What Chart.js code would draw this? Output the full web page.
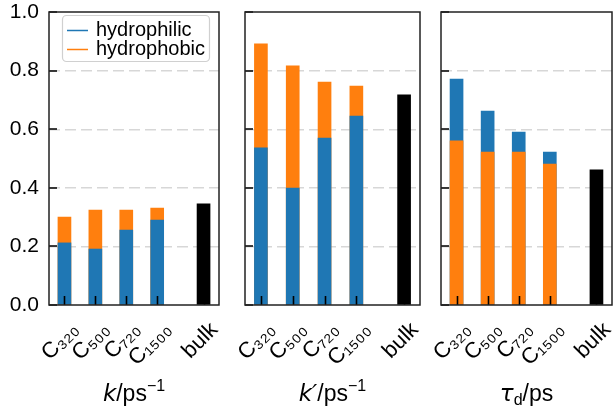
<!DOCTYPE html>
<html>
<head>
<meta charset="utf-8">
<script src="https://cdn.jsdelivr.net/npm/chart.js@4.4.1/dist/chart.umd.min.js"></script>
<style>
  html, body { margin: 0; padding: 0; background: #fff; }
  #wrap { position: relative; width: 613px; height: 410px; overflow: hidden; }
  #wrap canvas { position: absolute; top: 0; }
</style>
</head>
<body>
<div id="wrap">
  <canvas id="panel-k" width="236" height="410" style="left:0px"></canvas>
  <canvas id="panel-kp" width="230" height="410" style="left:205px"></canvas>
  <canvas id="panel-tau" width="212" height="410" style="left:401px"></canvas>
</div>
<script>
// categories and their slots on the x axis (bulk sits a bit apart)
const categories = ['C₃₂₀', 'C₅₀₀', 'C₇₂₀', 'C₁₅₀₀'];
const categorySlots = [0, 1, 2, 3];
const bulkLabel = 'bulk';
const bulkSlot = 4.5;
const yTicks = [0, 0.2, 0.4, 0.6, 0.8, 1.0];

// k / ps^-1
const kHydrophilic = [0.212, 0.191, 0.256, 0.290];
const kHydrophobic = [0.300, 0.324, 0.324, 0.331];
const kBulk = 0.345;

// k' / ps^-1
const kpHydrophilic = [0.536, 0.399, 0.570, 0.645];
const kpHydrophobic = [0.891, 0.816, 0.761, 0.747];
const kpBulk = 0.717;

// tau_d / ps
const tauHydrophilic = [0.771, 0.662, 0.590, 0.522];
const tauHydrophobic = [0.560, 0.522, 0.522, 0.481];
const tauBulk = 0.461;

const BLUE = '#1f77b4';
const ORANGE = '#ff7f0e';
const FONT = '"Liberation Sans", Arial, sans-serif';
const MATH_FONT = '"DejaVu Sans", sans-serif';

function labelFor(value) {
  const i = categorySlots.indexOf(value);
  if (i >= 0) return categories[i];
  return value === bulkSlot ? bulkLabel : '';
}

function toPoints(values) {
  return values.map((v, i) => ({ x: categorySlots[i], y: v }));
}

// inward ticks, full frame and the mixed-style axis title
const framePlugin = {
  id: 'frame',
  afterDraw(chart) {
    const { ctx, chartArea: a, scales: { x, y } } = chart;
    ctx.save();
    ctx.strokeStyle = '#000';
    ctx.lineWidth = 1.6;
    ctx.beginPath();
    [...categorySlots, bulkSlot].forEach((v) => {
      const px = Math.round(x.getPixelForValue(v)) + 0.5;
      ctx.moveTo(px, a.bottom);
      ctx.lineTo(px, a.bottom - 9);
    });
    yTicks.forEach((v) => {
      const py = Math.round(y.getPixelForValue(v));
      ctx.moveTo(a.left, py);
      ctx.lineTo(a.left + 8, py);
    });
    ctx.stroke();
    ctx.strokeStyle = '#222';
    ctx.lineWidth = 1.5;
    ctx.strokeRect(a.left, a.top, a.right - a.left, a.bottom - a.top);

    const parts = chart.options.plugins.frame.title;
    let total = 0;
    parts.forEach((p) => {
      ctx.font = p.font;
      p.w = ctx.measureText(p.text).width;
      total += p.w;
    });
    let cx = (a.left + a.right) / 2 - total / 2;
    ctx.fillStyle = '#000';
    ctx.textBaseline = 'alphabetic';
    ctx.textAlign = 'left';
    parts.forEach((p) => {
      ctx.font = p.font;
      ctx.fillText(p.text, cx, 401 + (p.dy || 0));
      cx += p.w;
    });
    ctx.restore();
  },
};

const legendPlugin = {
  id: 'legendBox',
  afterDraw(chart) {
    const { ctx } = chart;
    ctx.save();
    ctx.fillStyle = 'rgba(255,255,255,0.8)';
    ctx.strokeStyle = '#d0d0d0';
    ctx.lineWidth = 1.2;
    ctx.beginPath();
    ctx.roundRect(62.5, 15.5, 147, 46, 4);
    ctx.fill();
    ctx.stroke();
    const rows = [
      { text: 'hydrophilic', color: BLUE, y: 30 },
      { text: 'hydrophobic', color: ORANGE, y: 49 },
    ];
    ctx.font = '20px ' + FONT;
    ctx.textBaseline = 'middle';
    ctx.textAlign = 'left';
    rows.forEach((r) => {
      ctx.strokeStyle = r.color;
      ctx.lineWidth = 1.5;
      ctx.beginPath();
      ctx.moveTo(67, r.y + 0.5);
      ctx.lineTo(88, r.y + 0.5);
      ctx.stroke();
      ctx.fillStyle = '#000';
      ctx.fillText(r.text, 96, r.y);
    });
    ctx.restore();
  },
};

function makePanel(canvasId, { philic, phobic, bulk, phobicOnTop, showY, padding, title, extraPlugins }) {
  const canvas = document.getElementById(canvasId);
  return new Chart(canvas, {
    type: 'bar',
    data: {
      datasets: [
        {
          label: 'hydrophilic',
          data: toPoints(philic),
          backgroundColor: BLUE,
          order: phobicOnTop ? 1 : 0,
        },
        {
          label: 'hydrophobic',
          data: toPoints(phobic),
          backgroundColor: ORANGE,
          order: phobicOnTop ? 0 : 1,
        },
        {
          label: 'bulk',
          data: [{ x: bulkSlot, y: bulk }],
          backgroundColor: '#000',
          order: 2,
        },
      ],
    },
    options: {
      responsive: false,
      animation: false,
      devicePixelRatio: 1,
      layout: { padding },
      datasets: { bar: { grouped: false, barThickness: 13, borderWidth: 0 } },
      plugins: {
        legend: { display: false },
        tooltip: { enabled: false },
        frame: { title },
      },
      scales: {
        x: {
          type: 'linear',
          min: -0.5,
          max: 5,
          offset: false,
          grid: { display: false },
          border: { display: false },
          afterBuildTicks: (scale) => {
            scale.ticks = [...categorySlots, bulkSlot].map((v) => ({ value: v }));
          },
          afterFit: (scale) => {
            scale.height = 105;
            scale.paddingLeft = 0;
            scale.paddingRight = 0;
          },
          ticks: {
            autoSkip: false,
            minRotation: 45,
            maxRotation: 45,
            padding: 4,
            labelOffset: 11,
            color: '#000',
            font: { family: FONT, size: 22 },
            callback: (v) => labelFor(v),
          },
        },
        y: {
          min: 0,
          max: 1,
          z: 1,
          border: { display: false, dash: [11, 5] },
          grid: {
            drawTicks: false,
            lineWidth: 1.4,
            color: (c) => (c.tick && (c.tick.value === 0 || c.tick.value === 1) ? 'rgba(0,0,0,0)' : 'rgba(140,140,140,0.35)'),
          },
          afterBuildTicks: (scale) => {
            scale.ticks = yTicks.map((v) => ({ value: v }));
          },
          afterFit: (scale) => {
            scale.width = showY ? 49 : 0;
            scale.paddingTop = 0;
            scale.paddingBottom = 0;
          },
          ticks: {
            display: showY,
            padding: 10,
            color: '#000',
            font: { family: FONT, size: 21 },
            callback: (v) => v.toFixed(1),
          },
        },
      },
    },
    plugins: [framePlugin, ...(extraPlugins || [])],
  });
}

const italic = 'italic 23px ' + MATH_FONT;
const upright = '23px ' + FONT;
const small = '16px ' + FONT;

makePanel('panel-k', {
  philic: kHydrophilic,
  phobic: kHydrophobic,
  bulk: kBulk,
  phobicOnTop: false,
  showY: true,
  padding: { left: 0, right: 17, top: 12, bottom: 0 },
  title: [
    { text: 'k', font: italic },
    { text: '/ps', font: upright },
    { text: '−1', font: small, dy: -10 },
  ],
  extraPlugins: [legendPlugin],
});

makePanel('panel-kp', {
  philic: kpHydrophilic,
  phobic: kpHydrophobic,
  bulk: kpBulk,
  phobicOnTop: false,
  showY: false,
  padding: { left: 40, right: 15, top: 12, bottom: 0 },
  title: [
    { text: 'k′', font: italic },
    { text: '/ps', font: upright },
    { text: '−1', font: small, dy: -10 },
  ],
});

makePanel('panel-tau', {
  philic: tauHydrophilic,
  phobic: tauHydrophobic,
  bulk: tauBulk,
  phobicOnTop: true,
  showY: false,
  padding: { left: 40, right: 1, top: 12, bottom: 0 },
  title: [
    { text: 'τ', font: italic },
    { text: 'd', font: small, dy: 4 },
    { text: '/ps', font: upright },
  ],
});
</script>
</body>
</html>
